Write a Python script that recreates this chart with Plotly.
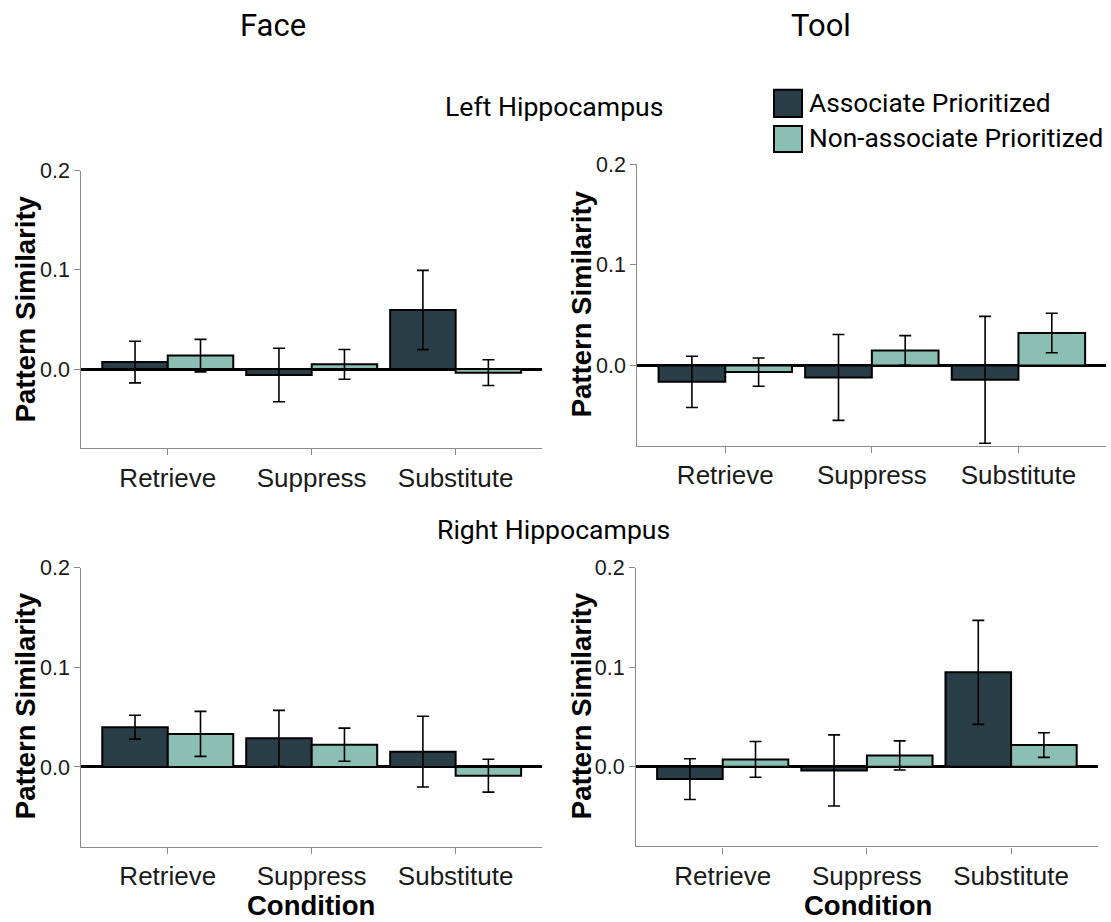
import plotly.graph_objects as go

W, H = 1111, 922

conditions = ["Retrieve", "Suppress", "Substitute"]
series_names = ["Associate Prioritized", "Non-associate Prioritized"]

# Face, Left Hippocampus
face_left_assoc = [0.007, -0.006, 0.0595]
face_left_assoc_err = [0.021, 0.027, 0.040]
face_left_nonassoc = [0.0135, 0.0047, -0.0037]
face_left_nonassoc_err = [0.0164, 0.015, 0.013]

# Tool, Left Hippocampus
tool_left_assoc = [-0.0163, -0.0119, -0.0143]
tool_left_assoc_err = [0.0254, 0.0426, 0.063]
tool_left_nonassoc = [-0.0066, 0.0149, 0.0322]
tool_left_nonassoc_err = [0.014, 0.0147, 0.0196]

# Face, Right Hippocampus
face_right_assoc = [0.0399, 0.0288, 0.0154]
face_right_assoc_err = [0.012, 0.028, 0.0355]
face_right_nonassoc = [0.0332, 0.0224, -0.0087]
face_right_nonassoc_err = [0.0226, 0.0166, 0.0165]

# Tool, Right Hippocampus
tool_right_assoc = [-0.0124, -0.0037, 0.0948]
tool_right_assoc_err = [0.0205, 0.0357, 0.0522]
tool_right_nonassoc = [0.0074, 0.0114, 0.0218]
tool_right_nonassoc_err = [0.0179, 0.0146, 0.0124]

y_tickvals = [0.0, 0.1, 0.2]
y_ticktext = ["0.0", "0.1", "0.2"]

DARK = "rgb(41,62,70)"
LIGHT = "rgb(139,191,179)"
AXGRAY = "#8a8a8a"
TICKFONT = "Liberation Sans, Arial, sans-serif"
TITLEFONT = "Roboto, sans-serif"


def fx(px):
    return px / W


def fy(py):
    # vertical pixel position (top-down) -> paper fraction, with a small
    # correction so the rendered page lines up with the reference
    py = (py - 11.3) / 0.986
    return 1 - py / H


panels = [
    # (assoc, assoc_err, nonassoc, nonassoc_err, x0, x1, ytop, ybot)
    (face_left_assoc, face_left_assoc_err, face_left_nonassoc, face_left_nonassoc_err, 81.4, 542.0, 170.7, 447.7),
    (tool_left_assoc, tool_left_assoc_err, tool_left_nonassoc, tool_left_nonassoc_err, 637.3, 1106.4, 164.0, 445.4),
    (face_right_assoc, face_right_assoc_err, face_right_nonassoc, face_right_nonassoc_err, 81.4, 542.0, 566.7, 845.3),
    (tool_right_assoc, tool_right_assoc_err, tool_right_nonassoc, tool_right_nonassoc_err, 636.2, 1097.6, 566.7, 845.0),
]

fig = go.Figure()
layout = dict(
    width=W, height=H,
    margin=dict(l=0, r=0, t=0, b=0),
    paper_bgcolor="white", plot_bgcolor="white",
    barmode="group", bargap=0.09, bargroupgap=0.0,
    showlegend=False,
)

for i, (a, ae, n, ne, x0, x1, yt, yb) in enumerate(panels):
    k = "" if i == 0 else str(i + 1)
    xa, ya = "x" + k, "y" + k
    for vals, errs, col, name in ((a, ae, DARK, series_names[0]), (n, ne, LIGHT, series_names[1])):
        fig.add_trace(go.Bar(
            x=conditions, y=vals, name=name, xaxis=xa, yaxis=ya,
            marker=dict(color=col, line=dict(color="black", width=2)),
            error_y=dict(type="data", array=errs, visible=True, color="black", thickness=1.6, width=6),
            offsetgroup=name,
        ))
    layout["xaxis" + k] = dict(
        domain=[fx(x0), fx(x1)], anchor=ya, type="category",
        range=[-0.6, 2.6], showline=True, linecolor=AXGRAY, linewidth=1.3,
        ticks="outside", ticklen=6, tickcolor=AXGRAY, tickwidth=1.2,
        tickfont=dict(family=TICKFONT, size=26, color="#1a1a1a"),
        showgrid=False, zeroline=False, fixedrange=True,
    )
    layout["yaxis" + k] = dict(
        domain=[fy(yb), fy(yt)], anchor=xa,
        range=[-0.08, 0.2], showline=True, linecolor=AXGRAY, linewidth=1.3,
        ticks="outside", ticklen=6, tickcolor=AXGRAY, tickwidth=1.2,
        tickvals=y_tickvals, ticktext=y_ticktext,
        tickfont=dict(family=TICKFONT, size=21.5, color="#1a1a1a"),
        showgrid=False, zeroline=True, zerolinecolor="black", zerolinewidth=2.6,
        fixedrange=True,
    )

fig.update_layout(**layout)

ann = []


def text(s, px, py, size, family=TITLEFONT, bold=False, angle=0, xanchor="center",
         yanchor="middle", yfrac=None):
    ann.append(dict(
        text=("<b>%s</b>" % s) if bold else s, x=fx(px),
        y=fy(py) if yfrac is None else yfrac, xref="paper", yref="paper",
        xanchor=xanchor, yanchor=yanchor, showarrow=False, textangle=angle,
        borderpad=0, font=dict(family=family, size=size, color="black"),
    ))


text("Face", 273, 26, 31)
text("Tool", 821, 26, 31)
text("Left Hippocampus", 554, 107, 26.6)
text("Right Hippocampus", 553, 529, 26.6)
text(series_names[0], 808, 103, 26.3, xanchor="left")
text(series_names[1], 808, 138, 26.3, xanchor="left")
for px, py in ((25, 309), (581, 304), (25, 705), (581, 705)):
    text("Pattern Similarity", px, py, 27.5, family=TICKFONT, bold=True, angle=-90)
for px in (311, 867.5):
    text("Condition", px, 0, 27.5, family=TICKFONT, bold=True, yanchor="bottom", yfrac=0.0)

fig.update_layout(annotations=ann)

shapes = []
for (y0, y1), col in (((90, 117), DARK), ((126, 152), LIGHT)):
    shapes.append(dict(type="rect", xref="paper", yref="paper",
                       x0=fx(774), x1=fx(802), y0=fy(y1), y1=fy(y0),
                       fillcolor=col, line=dict(color="black", width=2)))
fig.update_layout(shapes=shapes)

fig.write_html(
    "out.html",
    config={"displayModeBar": False},
    post_script="document.body.style.margin='0';document.body.style.overflow='hidden';",
)
